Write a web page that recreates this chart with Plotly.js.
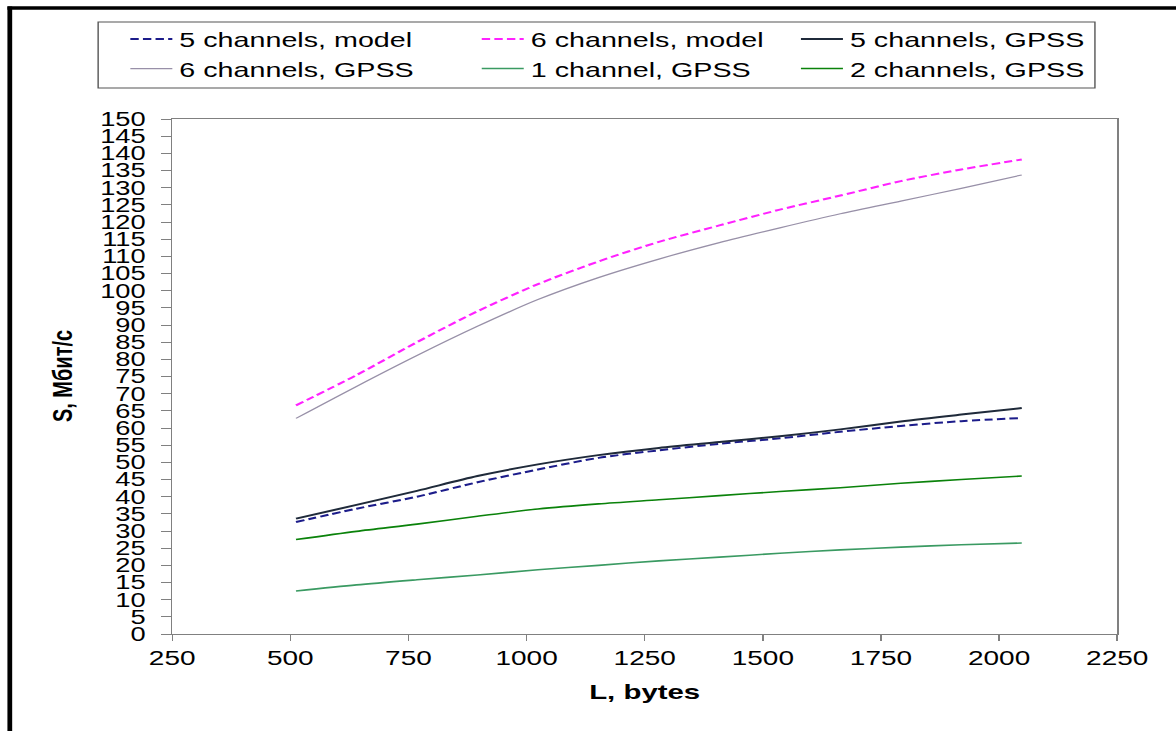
<!DOCTYPE html>
<html>
<head>
<meta charset="utf-8">
<script src="https://cdn.plot.ly/plotly-3.0.1.min.js"></script>
<style>
html,body{margin:0;padding:0;background:#fff;overflow:hidden;}
#wrap{width:1176px;height:731px;overflow:hidden;}
#plot{width:840px;height:731px;transform:scaleX(1.4);transform-origin:0 0;}
</style>
</head>
<body>
<div id="wrap"><div id="plot"></div></div>
<script>
// ---- data ----
const L_bytes = [512, 640, 768, 896, 1024, 1152, 1280, 1408, 1536, 1664, 1792, 1920, 2048];
const ch5_model = [32.6, 36.5, 40.0, 44.2, 47.9, 51.3, 53.5, 55.4, 57.0, 58.9, 60.6, 62.0, 62.9];
const ch6_model = [66.6, 75.4, 85.0, 94.0, 101.9, 108.5, 114.2, 119.0, 123.6, 127.7, 131.9, 135.3, 138.2];
const ch5_gpss  = [33.6, 37.6, 41.7, 46.0, 49.4, 52.1, 54.2, 55.9, 57.6, 59.6, 61.9, 63.9, 65.8];
const ch6_gpss  = [62.8, 72.1, 81.1, 89.6, 97.4, 103.8, 109.2, 114.0, 118.3, 122.4, 126.1, 129.8, 133.7];
const ch1_gpss  = [12.5, 14.3, 15.8, 17.2, 18.7, 20.0, 21.3, 22.4, 23.5, 24.5, 25.3, 26.0, 26.5];
const ch2_gpss  = [27.5, 29.9, 32.0, 34.3, 36.4, 37.9, 39.1, 40.3, 41.5, 42.6, 43.9, 45.0, 46.0];
const names = ["5 channels, model", "6 channels, model", "5 channels, GPSS",
               "6 channels, GPSS", "1 channel, GPSS", "2 channels, GPSS"];
const xTitle = "L, bytes";
const yTitle = "S, Мбит/с";

// ---- geometry (pre-scale pixels) ----
const W = 840, H = 731;
const M = {l: 122.9, r: 42.1, t: 118.5, b: 97.2};
const pw = W - M.l - M.r, ph = H - M.t - M.b;
const px = p => (p - M.l) / pw;
const py = p => 1 - (p - M.t) / ph;
const FONT = "Liberation Sans, Arial, sans-serif";

function tr(y, name, color, width, dash, legend) {
  return {x: L_bytes, y: y, name: name, type: "scatter", mode: "lines",
          line: {color: color, width: width, dash: dash, shape: "spline", smoothing: 0.8},
          legend: legend};
}
const data = [
  tr(ch5_model, names[0], "#1c1c8a", 2, "6px,3px", "legend"),
  tr(ch6_gpss,  names[3], "#9890a8", 1.2, "solid", "legend"),
  tr(ch6_model, names[1], "#ff22ff", 2, "6px,3px", "legend2"),
  tr(ch1_gpss,  names[4], "#3a9a62", 1.6, "solid", "legend2"),
  tr(ch5_gpss,  names[2], "#1f2a3a", 2, "solid", "legend3"),
  tr(ch2_gpss,  names[5], "#0a820a", 1.6, "solid", "legend3")
];

const legFont = {family: FONT, size: 20.5, color: "#000"};
function leg(xp) {
  return {x: px(xp), y: py(18.5), xanchor: "left", yanchor: "top",
          bgcolor: "rgba(0,0,0,0)", borderwidth: 0, font: legFont,
          tracegroupgap: 0, itemclick: false};
}

const layout = {
  width: W, height: H,
  margin: M,
  paper_bgcolor: "#fff", plot_bgcolor: "#fff",
  font: {family: FONT, color: "#000"},
  showlegend: true,
  legend: leg(88), legend2: leg(339), legend3: leg(567),
  xaxis: {
    range: [250, 2250], dtick: 250, tick0: 250,
    showgrid: false, zeroline: false,
    showline: true, linecolor: "#808080", linewidth: 1, mirror: true,
    ticks: "outside", ticklen: 6, tickcolor: "#808080",
    tickfont: {family: FONT, size: 20, color: "#000"},
    title: {text: xTitle, font: {family: FONT, size: 21, color: "#000", weight: "bold"}, standoff: 16}
  },
  yaxis: {
    range: [0, 150], dtick: 5, tick0: 0,
    showgrid: false, zeroline: false,
    showline: true, linecolor: "#808080", linewidth: 1, mirror: true,
    ticks: "outside", ticklen: 7, tickcolor: "#808080",
    ticklabelstandoff: 7,
    tickfont: {family: FONT, size: 19.5, color: "#000"}
  },
  annotations: [{
    text: "<b>" + yTitle + "</b>", xref: "paper", yref: "paper",
    x: px(43.5), y: 0.5, xanchor: "center", yanchor: "middle",
    textangle: -90, showarrow: false,
    font: {family: FONT, size: 20, color: "#000"}
  }],
  shapes: [
    {type: "rect", xref: "paper", yref: "paper",
     x0: px(70), x1: px(782), y0: py(21.5), y1: py(87.5),
     line: {color: "#555", width: 1}, fillcolor: "rgba(0,0,0,0)"},
    {type: "line", xref: "paper", yref: "paper",
     x0: px(6.9), x1: px(6.9), y0: py(6), y1: py(731),
     line: {color: "#000", width: 3.4}},
    {type: "line", xref: "paper", yref: "paper",
     x0: px(5.2), x1: px(840), y0: py(7.5), y1: py(7.5),
     line: {color: "#000", width: 3.5}}
  ]
};

Plotly.newPlot("plot", data, layout, {displayModeBar: false, staticPlot: true});
</script>
</body>
</html>
